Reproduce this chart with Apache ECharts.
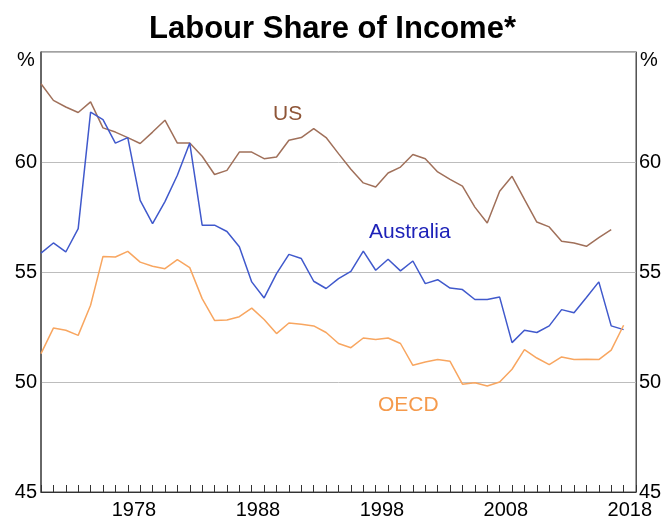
<!DOCTYPE html>
<html>
<head>
<meta charset="utf-8">
<script src="https://cdn.jsdelivr.net/npm/echarts@6/dist/echarts.min.js"></script>
<style>
html,body{margin:0;padding:0;background:#fff;}
#chart{width:665px;height:524px;}
</style>
</head>
<body>
<div id="chart"></div>
<script>
var years = [1971,1972,1973,1974,1975,1976,1977,1978,1979,1980,
             1981,1982,1983,1984,1985,1986,1987,1988,1989,1990,
             1991,1992,1993,1994,1995,1996,1997,1998,1999,2000,
             2001,2002,2003,2004,2005,2006,2007,2008,2009,2010,
             2011,2012,2013,2014,2015,2016,2017,2018];
var labelYears = [1978, 1988, 1998, 2008, 2018];
var yTicks = [45, 50, 55, 60];

var us = [63.56,62.80,62.50,62.25,62.73,61.55,61.36,61.11,60.84,61.36,
          61.90,60.86,60.86,60.26,59.43,59.62,60.45,60.45,60.15,60.23,
          60.99,61.11,61.52,61.11,60.38,59.67,59.05,58.86,59.50,59.77,
          60.34,60.15,59.55,59.21,58.90,57.95,57.23,58.67,59.35,58.30,
          57.27,57.05,56.40,56.32,56.17,56.56,56.93];
var australia = [55.86,56.32,55.91,56.97,62.27,61.93,60.86,61.11,58.26,57.20,
                 58.20,59.40,60.86,57.13,57.13,56.84,56.15,54.55,53.82,54.93,
                 55.80,55.61,54.58,54.25,54.70,55.03,55.95,55.08,55.58,55.05,
                 55.50,54.47,54.65,54.27,54.20,53.75,53.75,53.86,51.79,52.35,
                 52.25,52.55,53.29,53.15,53.84,54.55,52.55,52.38];
var oecd = [51.29,52.45,52.35,52.12,53.49,55.71,55.68,55.94,55.45,55.26,
            55.15,55.56,55.20,53.79,52.80,52.82,52.97,53.36,52.84,52.20,
            52.68,52.62,52.55,52.25,51.75,51.56,52.00,51.93,52.00,51.75,
            50.76,50.91,51.02,50.94,49.90,49.97,49.82,50.00,50.58,51.47,
            51.09,50.79,51.14,51.02,51.03,51.02,51.45,52.58];

function pairs(vals){ return vals.map(function(v,i){ return [years[i], v]; }); }

var FONT = '"Liberation Sans", Arial, sans-serif';
var chart = echarts.init(document.getElementById('chart'), null, {renderer:'canvas'});
var option = {
  animation: false,
  backgroundColor: '#ffffff',
  title: {
    text: 'Labour Share of Income*',
    left: 'center',
    top: 9,
    textStyle: {fontFamily: FONT, fontSize: 31, fontWeight: 'bold', color: '#000'}
  },
  grid: {left: 41, right: 29, top: 52, bottom: 32, show: true, borderColor: '#444', borderWidth: 1, backgroundColor: 'transparent'},
  xAxis: [{
    type: 'category',
    data: years.map(String),
    boundaryGap: true,
    axisLine: {show: true, lineStyle: {color: '#333', width: 1}},
    axisTick: {show: true, inside: true, interval: 0, length: 7, lineStyle: {color: '#333'}},
    axisLabel: {
      interval: function(i, v){ return labelYears.indexOf(+v) >= 0; },
      fontFamily: FONT, fontSize: 20, color: '#000', margin: 8
    },
    splitLine: {show: false}
  }, {
    type: 'value', min: years[0], max: years[years.length-1] + 1, show: false
  }],
  yAxis: [{
    type: 'value', position: 'left', min: 45, max: 65, interval: 5,
    axisLine: {show: true, lineStyle: {color: '#555', width: 1.5}},
    axisTick: {show: false},
    axisLabel: {fontFamily: FONT, fontSize: 20, color: '#000', margin: 4,
      formatter: function(v){ return yTicks.indexOf(v) >= 0 ? String(v) : ''; }},
    splitLine: {show: true, lineStyle: {color: '#BDBDBD', width: 1}}
  }, {
    type: 'value', position: 'right', min: 45, max: 65, interval: 5,
    axisLine: {show: true, lineStyle: {color: '#555', width: 1}},
    axisTick: {show: false},
    axisLabel: {fontFamily: FONT, fontSize: 20, color: '#000', margin: 3,
      formatter: function(v){ return yTicks.indexOf(v) >= 0 ? String(v) : ''; }},
    splitLine: {show: false}
  }],
  series: [{
    name: 'US', type: 'line', xAxisIndex: 1, yAxisIndex: 0,
    data: pairs(us), showSymbol: false, symbol: 'none',
    lineStyle: {color: '#A0705A', width: 1.5}
  }, {
    name: 'Australia', type: 'line', xAxisIndex: 1, yAxisIndex: 0,
    data: pairs(australia), showSymbol: false, symbol: 'none',
    lineStyle: {color: '#4059CC', width: 1.5}
  }, {
    name: 'OECD', type: 'line', xAxisIndex: 1, yAxisIndex: 0,
    data: pairs(oecd), showSymbol: false, symbol: 'none',
    lineStyle: {color: '#F8A660', width: 1.5}
  }],
  graphic: [
    {type: 'text', left: 17, top: 50, style: {text: '%', font: '20px ' + FONT, fill: '#000'}},
    {type: 'text', left: 640, top: 50, style: {text: '%', font: '20px ' + FONT, fill: '#000'}},
    {type: 'text', x: 273, y: 114, style: {text: 'US', font: '21px ' + FONT, fill: '#8E5537', textVerticalAlign: 'middle'}},
    {type: 'text', x: 369, y: 232, style: {text: 'Australia', font: '21px ' + FONT, fill: '#1E22B8', textVerticalAlign: 'middle'}},
    {type: 'text', x: 378, y: 405, style: {text: 'OECD', font: '21px ' + FONT, fill: '#F59A4C', textVerticalAlign: 'middle'}}
  ]
};
chart.setOption(option);
</script>
</body>
</html>
